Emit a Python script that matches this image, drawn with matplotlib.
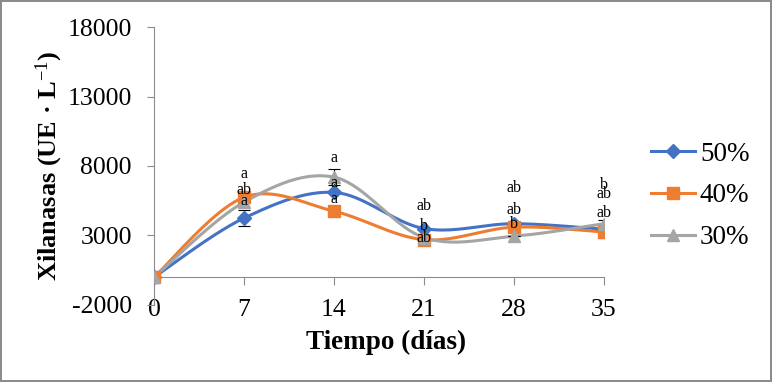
import numpy as np
import matplotlib
matplotlib.use("Agg")
import matplotlib.pyplot as plt

plt.rcParams["font.family"] = ["Liberation Serif", "DejaVu Serif"]
plt.rcParams["axes.unicode_minus"] = False
plt.rcParams["mathtext.fontset"] = "custom"
plt.rcParams["mathtext.rm"] = "Liberation Serif"
plt.rcParams["mathtext.bf"] = "Liberation Serif:bold"
plt.rcParams["mathtext.default"] = "bf"

# data
dias = [0, 7, 14, 21, 28, 35]
series_names = ["50%", "40%", "30%"]
xil_50 = [0, 4250, 6100, 3500, 3850, 3450]
xil_40 = [0, 5750, 4750, 2700, 3600, 3250]
xil_30 = [0, 5400, 7200, 2850, 2950, 3850]
err_50 = [0, 550, 0, 0, 0, 0]
err_40 = [0, 0, 0, 0, 0, 450]
err_30 = [0, 0, 600, 0, 0, 250]

# significance letters (day, y value, letter)
letters_x = [7, 7, 7, 14, 14, 14, 21, 21, 21, 28, 28, 28, 35, 35, 35]
letters_y = [7450, 6250, 5450, 8600, 6800, 5650, 5150, 3700, 2850,
             6400, 4850, 3850, 6600, 6000, 4650]
letters = ["a", "ab", "a", "a", "a", "a", "ab", "b", "ab",
           "ab", "ab", "b", "b", "ab", "ab"]

colors = ["#4472C4", "#ED7D31", "#A5A5A5"]
markers = ["D", "s", "^"]
msizes = [7, 9, 9]


def smooth_curve(x, y, n=40):
    """Excel-like smoothed line (Catmull-Rom through cubic Bezier)."""
    x = np.asarray(x, float)
    y = np.asarray(y, float)
    px = np.concatenate([[x[0]], x, [x[-1]]])
    py = np.concatenate([[y[0]], y, [y[-1]]])
    t = np.linspace(0, 1, n)
    xs, ys = [], []
    for i in range(1, len(px) - 2):
        p0 = np.array([px[i], py[i]])
        p3 = np.array([px[i + 1], py[i + 1]])
        c1 = p0 + (p3 - np.array([px[i - 1], py[i - 1]])) / 6
        c2 = p3 - (np.array([px[i + 2], py[i + 2]]) - p0) / 6
        b = ((1 - t) ** 3)[:, None] * p0 + (3 * (1 - t) ** 2 * t)[:, None] * c1 \
            + (3 * (1 - t) * t ** 2)[:, None] * c2 + (t ** 3)[:, None] * p3
        xs.append(b[:, 0])
        ys.append(b[:, 1])
    return np.concatenate(xs), np.concatenate(ys)


fig = plt.figure(figsize=(7.72, 3.82), dpi=100)
fig.patch.set_edgecolor("#8c8c8c")
fig.patch.set_linewidth(1.5)
ax = fig.add_axes([0.1995, 0.2016, 0.5829, 0.7277])

all_y = [xil_50, xil_40, xil_30]
all_err = [err_50, err_40, err_30]
for name, yv, ev, c, m, ms in zip(series_names, all_y, all_err, colors, markers, msizes):
    sx, sy = smooth_curve(dias, yv)
    ax.plot(sx, sy, color=c, linewidth=2.2, zorder=2)
    ax.errorbar(dias, yv, yerr=ev, fmt="none", ecolor="black", elinewidth=0.8,
                capsize=4, capthick=0.8, zorder=3)
    ax.plot(dias, yv, linestyle="none", marker=m, markersize=ms, color=c, zorder=4)
    ax.plot([], [], color=c, linewidth=2.2, marker=m, markersize=ms, label=name)

for lx, ly, lt in zip(letters_x, letters_y, letters):
    ax.text(lx, ly, lt, ha="center", va="center", fontsize=11.5, zorder=5)

ax.set_xlim(0, 35)
ax.set_ylim(-2000, 18000)
ax.set_xticks(dias)
ax.set_yticks([-2000, 3000, 8000, 13000, 18000])
ax.tick_params(axis="both", labelsize=18.5, color="#8c8c8c", direction="out")
ax.tick_params(axis="x", length=6, pad=10)
ax.tick_params(axis="y", length=5, pad=11)

for s in ["top", "right"]:
    ax.spines[s].set_visible(False)
ax.spines["left"].set_color("#8c8c8c")
ax.spines["bottom"].set_color("#8c8c8c")
ax.spines["bottom"].set_position(("data", 0))
ax.patch.set_alpha(0)

ax.set_xlabel("Tiempo (días)", fontsize=19.5, fontweight="bold")
ax.xaxis.set_label_coords(0.516, -0.088)
ax.set_ylabel("Xilanasas (UE · L$^{\\mathrm{-1}}$)", fontsize=19, fontweight="bold")
ax.yaxis.set_label_coords(-0.198, 0.5)

ax.legend(loc="center left", bbox_to_anchor=(0.812, 0.487), bbox_transform=fig.transFigure,
          frameon=False, fontsize=19.5, handlelength=1.6, labelspacing=0.62,
          handletextpad=0.2)

fig.savefig("out.png", dpi=100)
